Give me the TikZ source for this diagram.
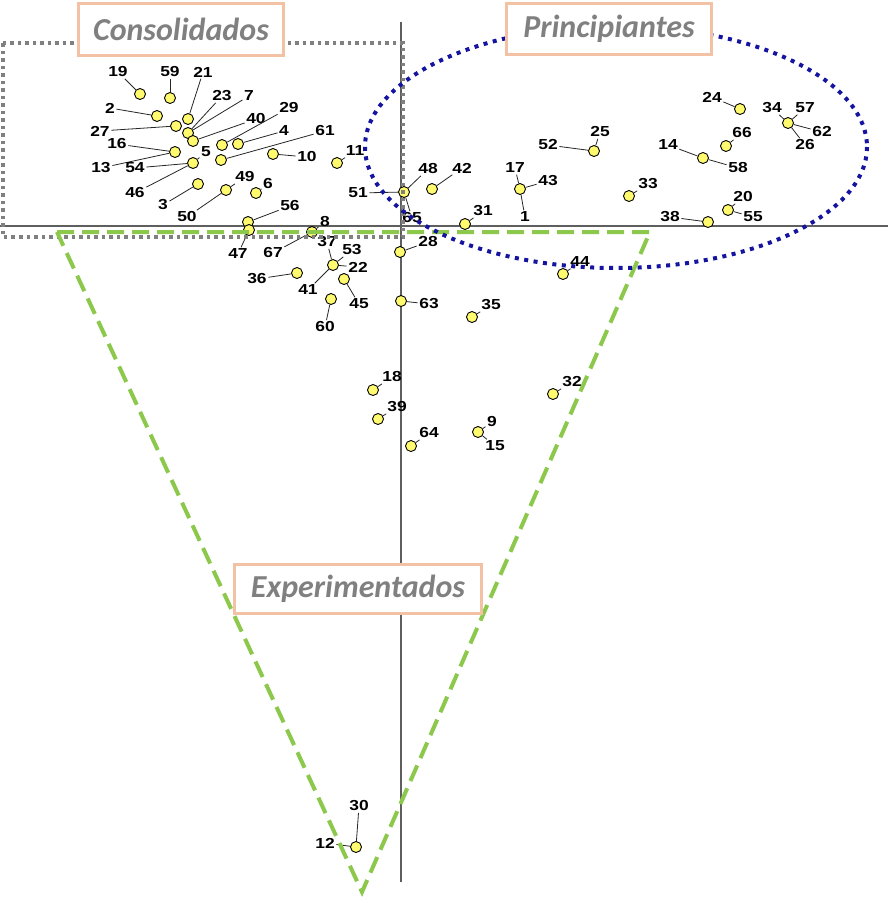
\documentclass[tikz,border=0pt]{standalone}
\usepackage{fontspec}
\usepackage{tikz}
\usetikzlibrary{positioning,calc}
\newfontfamily\numfont{Liberation Sans}[FakeStretch=1.2]
\newfontfamily\titlefont{Carlito}
\definecolor{dotyellow}{RGB}{255,250,110}
\definecolor{boxpeach}{RGB}{243,193,163}
\definecolor{titlegray}{RGB}{128,128,128}
\definecolor{axisgray}{RGB}{95,95,95}
\definecolor{rectgray}{RGB}{128,128,128}
\definecolor{trigreen}{RGB}{140,200,75}
\definecolor{ellblue}{RGB}{20,20,160}
\tikzset{
  dot/.style={circle,draw=black,fill=dotyellow,inner sep=0pt,minimum size=11pt,line width=0.9pt},
  num/.style={font=\numfont\bfseries\fontsize{14.5}{15}\selectfont,inner sep=1.5pt},
  lead/.style={draw=black!85,line width=0.8pt},
  groupbox/.style={draw=boxpeach,line width=3pt,fill=white,text=titlegray,
    font=\titlefont\bfseries\itshape\fontsize{32}{34}\selectfont,inner sep=0pt}
}

\begin{document}
\begin{tikzpicture}[x=1pt,y=-1pt]
\useasboundingbox (0,0) rectangle (888,903);
% axes
\coordinate (xl) at (0,226);
\coordinate (xr) at (888,226);
\coordinate (yt) at (401,22);
\coordinate (yb) at (401,882);
\draw[axisgray,line width=1.3pt] (xl) -- (xr);
\draw[axisgray,line width=1.3pt] (yt) -- (yb);
% individuals
\foreach \n/\x/\y in {19/140/94, 59/170/98, 21/188/119, 2/157/116, 27/176/126,
  23/188/133, 40/193/141, 29/222/145, 4/238/144, 61/221/160, 10/273/154,
  11/337/163, 16/175/152, 54/193/163, 3/198/184, 49/226/190, 6/256/193,
  56/248/222, 47/249/230, 8/312/232, 51/404/192, 42/432/189, 17/520/189,
  31/465/224, 52/594/151, 33/629/196, 14/703/158, 66/726/146, 24/740/109,
  34/788/123, 20/728/210, 38/708/222, 28/400/252, 22/333/265, 36/297/273,
  45/344/279, 60/331/299, 63/401/301, 35/472/317, 44/563/274, 18/373/390,
  39/378/419, 32/553/394, 9/478/432, 64/411/446, 12/356/847}
  \node[dot] (p\n) at (\x,\y) {};
% labels and leaders
\foreach \t/\x/\y/\p in {19/118/72/p19, 59/170/72/p59, 21/203/72/p21, 2/110/108/p2,
  27/100/131/p27, 23/222/96/p23, 7/249/96/p23, 40/256/119/p40, 29/289/108/p29,
  4/284/131/p4, 61/325/131/p61, 10/307/157/p10, 11/355/151/p11, 16/117/144/p16,
  13/101/168/p16, 54/135/168/p54, 5/206/152/p54, 46/135/193/p54, 3/163/205/p3,
  49/245/177/p49, 50/187/217/p49, 6/268/184/p6, 56/290/206/p56, 47/238/254/p47,
  8/325/222/p8, 67/273/253/p8, 37/327/242/p22, 53/352/250/p22, 22/358/267/p22,
  41/308/290/p22, 36/257/279/p36, 45/359/304/p45, 60/325/327/p60, 63/429/304/p63,
  51/358/193/p51, 48/428/169/p51, 65/412/218/p51, 42/462/168/p42, 17/515/168/p17,
  43/548/181/p17, 1/525/217/p17, 31/483/211/p31, 52/548/145/p52, 25/600/132/p52,
  33/648/184/p33, 14/668/145/p14, 58/738/168/p14, 66/742/133/p66, 24/712/97/p24,
  34/772/108/p34, 57/805/108/p34, 62/822/132/p34, 26/805/145/p34, 20/743/197/p20,
  55/753/217/p20, 38/670/217/p38, 28/428/242/p28, 35/491/305/p35, 44/580/262/p44,
  18/392/377/p18, 39/397/407/p39, 32/572/382/p32, 9/492/422/p9, 15/495/446/p9,
  64/429/433/p64, 30/359/806/p12, 12/325/843/p12}
  {
  \node[num] (l\t) at (\x,\y) {\t};
  \draw[lead] (l\t) -- (\p);
  }
% groups
\draw[rectgray,line width=3.5pt,dash pattern=on 3.5pt off 4pt] (3,43) rectangle (403,237);
\coordinate (tl) at (57,232);
\coordinate (tr) at (650,232);
\coordinate (tb) at (362,892);
\draw[trigreen,line width=4pt,dash pattern=on 17pt off 8pt] (tl) -- (tr) -- (tb) -- cycle;
\draw[ellblue,line width=4pt,dash pattern=on 4pt off 5.5pt] (616,147) ellipse [x radius=251, y radius=121];
\node[groupbox,minimum width=205pt,minimum height=52pt] (cons) at (181,29.5) {Consolidados};
\node[groupbox,minimum width=205pt,minimum height=51pt] (princ) at (609,29) {Principiantes};
\node[groupbox,minimum width=247pt,minimum height=49pt] (exper) at (358,589) {Experimentados};
\end{tikzpicture}
\end{document}
